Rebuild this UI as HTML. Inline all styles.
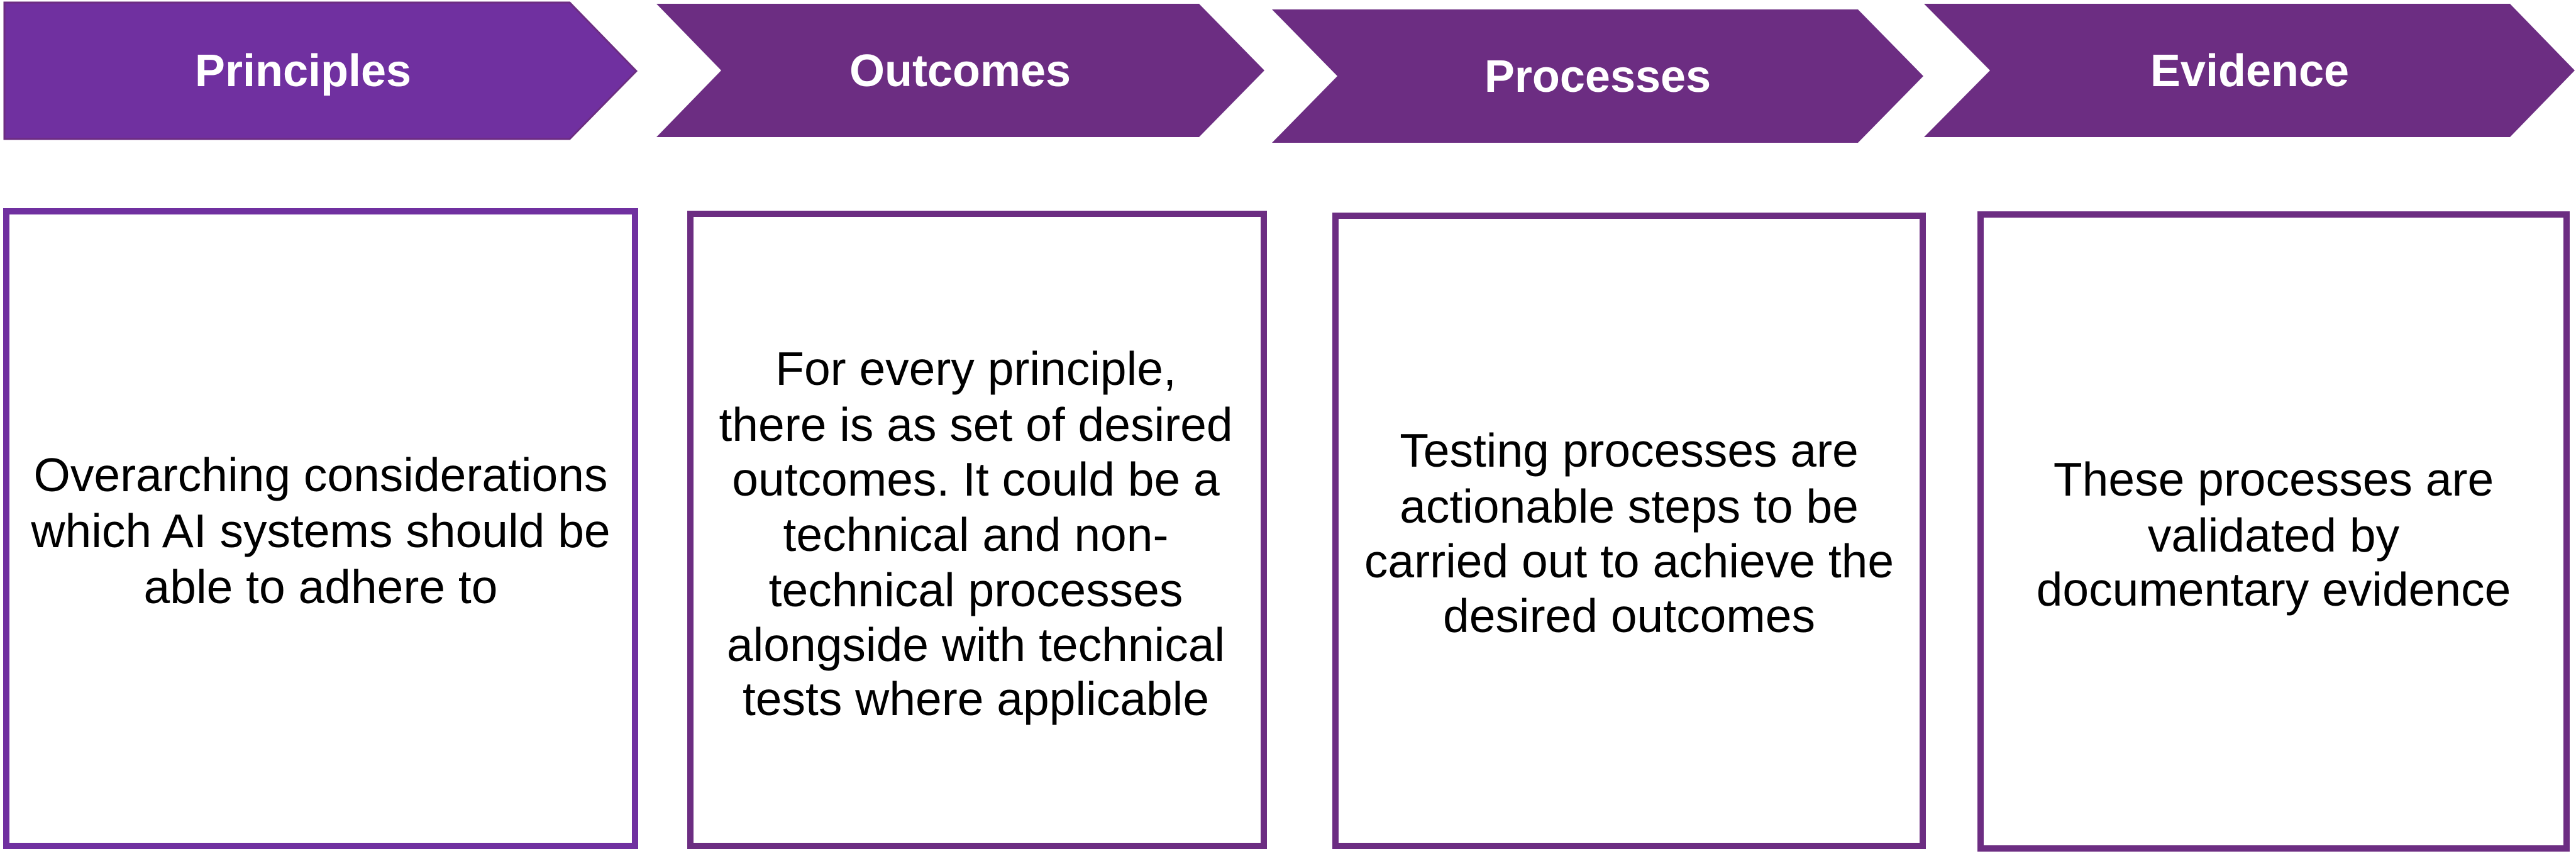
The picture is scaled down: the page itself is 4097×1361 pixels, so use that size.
<!DOCTYPE html>
<html><head><meta charset="utf-8"><style>
html,body{margin:0;padding:0;background:#fff;}
svg{display:block;}
.h{font-family:"Liberation Sans",sans-serif;font-weight:bold;font-size:72px;fill:#fff;text-anchor:middle;dominant-baseline:central;}
.b{font-family:"Liberation Sans",sans-serif;font-size:75px;fill:#000;text-anchor:middle;dominant-baseline:central;}
</style></head><body>
<svg width="4097" height="1361" viewBox="0 0 4097 1361" xmlns="http://www.w3.org/2000/svg">
<polygon points="7,4 906,4 1012,113 906,221 7,221" fill="#7030A0" stroke="#6C2D82" stroke-width="3"/>
<polygon points="1044,6 1907,6 2011,112 1907,218 1044,218 1147,112" fill="#6C2D82"/>
<polygon points="2023,15 2955,15 3059,121 2955,227 2023,227 2127,121" fill="#6C2D82"/>
<polygon points="3060,6 3992,6 4095,112 3992,218 3060,218 3165,112" fill="#6C2D82"/>
<text class="h" x="482" y="113">Principles</text>
<text class="h" x="1527" y="113">Outcomes</text>
<text class="h" x="2541" y="122">Processes</text>
<text class="h" x="3578" y="113">Evidence</text>
<rect x="10" y="336" width="1000" height="1009" fill="none" stroke="#7030A0" stroke-width="10"/>
<rect x="1098" y="340" width="912" height="1005" fill="none" stroke="#6C2D82" stroke-width="10"/>
<rect x="2124" y="343" width="934" height="1002" fill="none" stroke="#6C2D82" stroke-width="10"/>
<rect x="3150" y="341" width="932" height="1008" fill="none" stroke="#6C2D82" stroke-width="10"/>
<text class="b" x="510" y="755">Overarching considerations</text>
<text class="b" x="510" y="844">which AI systems should be</text>
<text class="b" x="510" y="933">able to adhere to</text>
<text class="b" x="1552" y="586">For every principle,</text>
<text class="b" x="1552" y="675">there is as set of desired</text>
<text class="b" x="1552" y="762">outcomes. It could be a</text>
<text class="b" x="1552" y="850">technical and non-</text>
<text class="b" x="1552" y="938">technical processes</text>
<text class="b" x="1552" y="1025">alongside with technical</text>
<text class="b" x="1552" y="1111">tests where applicable</text>
<text class="b" x="2591" y="716">Testing processes are</text>
<text class="b" x="2591" y="805">actionable steps to be</text>
<text class="b" x="2591" y="892">carried out to achieve the</text>
<text class="b" x="2591" y="979">desired outcomes</text>
<text class="b" x="3616" y="762">These processes are</text>
<text class="b" x="3616" y="851">validated by</text>
<text class="b" x="3616" y="937">documentary evidence</text>
</svg>
</body></html>
